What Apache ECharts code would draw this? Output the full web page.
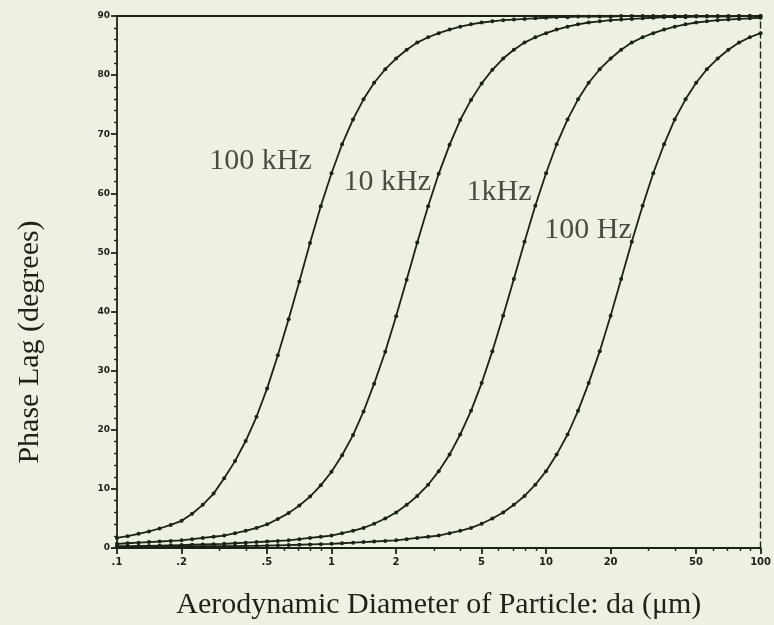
<!DOCTYPE html>
<html>
<head>
<meta charset="utf-8">
<script src="https://cdn.jsdelivr.net/npm/echarts@6/dist/echarts.min.js"></script>
<style>
  html, body { margin: 0; padding: 0; background: #edf1e3; }
  #chartHome { width: 774px; height: 625px; }
</style>
</head>
<body>
<div id="chartHome"></div>
<script>
// aerodynamic diameter (um), log spaced
const diameters = [
  0.1, 0.112, 0.126, 0.141, 0.158, 0.178, 0.2, 0.224, 0.251, 0.282,
  0.316, 0.355, 0.398, 0.447, 0.501, 0.562, 0.631, 0.708, 0.794, 0.891,
  1, 1.12, 1.26, 1.41, 1.58, 1.78, 2, 2.24, 2.51, 2.82,
  3.16, 3.55, 3.98, 4.47, 5.01, 5.62, 6.31, 7.08, 7.94, 8.91,
  10, 11.2, 12.6, 14.1, 15.8, 17.8, 20, 22.4, 25.1, 28.2,
  31.6, 35.5, 39.8, 44.7, 50.1, 56.2, 63.1, 70.8, 79.4, 89.1, 100
];

// phase lag (degrees)
const phase100kHz = [
  1.7, 2.0, 2.4, 2.8, 3.3, 3.9, 4.6, 5.8, 7.3, 9.2,
  11.8, 14.7, 18.1, 22.2, 27.0, 32.6, 38.7, 45.1, 51.6, 57.8,
  63.4, 68.3, 72.5, 75.9, 78.7, 81.0, 82.8, 84.3, 85.5, 86.4,
  87.1, 87.7, 88.2, 88.6, 88.9, 89.1, 89.3, 89.4, 89.5, 89.6,
  89.7, 89.8, 89.8, 89.9, 89.9, 89.9, 89.9, 90.0, 90.0, 90.0,
  90.0, 90.0, 90.0, 90.0, 90.0, 90.0, 90.0, 90.0, 90.0, 90.0, 90.0
];
const phase10kHz = [
  0.7, 0.8, 0.9, 1.0, 1.1, 1.2, 1.3, 1.5, 1.7, 1.9,
  2.1, 2.5, 2.9, 3.4, 4.0, 4.9, 5.9, 7.2, 8.7, 10.6,
  12.9, 15.7, 19.1, 23.1, 27.8, 33.2, 39.2, 45.4, 51.7, 57.8,
  63.3, 68.2, 72.4, 75.8, 78.6, 80.9, 82.8, 84.3, 85.5, 86.4,
  87.1, 87.7, 88.2, 88.6, 88.9, 89.1, 89.3, 89.4, 89.5, 89.6,
  89.7, 89.8, 89.8, 89.8, 89.9, 89.9, 89.9, 89.9, 90.0, 90.0, 90.0
];
const phase1kHz = [
  0.3, 0.3, 0.35, 0.35, 0.4, 0.45, 0.5, 0.55, 0.6, 0.65,
  0.7, 0.8, 0.9, 1.0, 1.1, 1.2, 1.3, 1.5, 1.7, 1.9,
  2.1, 2.5, 2.9, 3.4, 4.1, 5.0, 6.0, 7.3, 8.8, 10.7,
  13.0, 15.8, 19.2, 23.2, 27.9, 33.3, 39.3, 45.5, 51.8, 57.9,
  63.4, 68.3, 72.5, 75.9, 78.7, 81.0, 82.8, 84.3, 85.5, 86.4,
  87.1, 87.7, 88.2, 88.6, 88.9, 89.1, 89.3, 89.4, 89.5, 89.6, 89.7
];
const phase100Hz = [
  0.2, 0.2, 0.2, 0.2, 0.25, 0.25, 0.25, 0.25, 0.3, 0.3,
  0.3, 0.3, 0.35, 0.35, 0.4, 0.45, 0.5, 0.55, 0.6, 0.65,
  0.7, 0.8, 0.9, 1.0, 1.1, 1.2, 1.3, 1.5, 1.7, 1.9,
  2.1, 2.5, 2.9, 3.4, 4.1, 5.0, 6.0, 7.3, 8.8, 10.7,
  13.0, 15.8, 19.2, 23.2, 27.9, 33.3, 39.3, 45.5, 51.8, 57.9,
  63.4, 68.3, 72.5, 75.9, 78.7, 81.0, 82.8, 84.3, 85.5, 86.4, 87.1
];

// axis ticks
const xMajorTicks = [0.1, 0.2, 0.5, 1, 2, 5, 10, 20, 50, 100];
const xMinorTicks = [0.3, 0.4, 0.6, 0.7, 0.8, 0.9, 3, 4, 6, 7, 8, 9, 30, 40, 60, 70, 80, 90];

// curve labels (placed in data coordinates)
const curveNames = ['100 kHz', '10 kHz', '1kHz', '100 Hz'];
const labelX = [0.467, 1.82, 6.04, 15.7];
const labelY = [65.4, 61.9, 60.2, 53.8];

const ink = '#1a2318';
const textInk = '#1f211a';
const serif = '"Liberation Serif", "Times New Roman", serif';

const curves = [phase100kHz, phase10kHz, phase1kHz, phase100Hz];

function curveSeries(name, values) {
  return {
    name: name,
    type: 'line',
    xAxisIndex: 0,
    yAxisIndex: 0,
    data: diameters.map((d, i) => [d, values[i]]),
    symbol: 'circle',
    symbolSize: 4,
    showSymbol: true,
    lineStyle: { color: ink, width: 1.8 },
    itemStyle: { color: ink },
    silent: true,
    z: 3
  };
}

const option = {
  backgroundColor: '#edf1e3',
  animation: false,
  grid: { left: 117, right: 11, top: 16, bottom: 75, containLabel: false },
  xAxis: [
    {
      type: 'log',
      logBase: 10,
      min: 0.1,
      max: 100,
      position: 'bottom',
      name: 'Aerodynamic Diameter of Particle: da (\u03bcm)',
      nameLocation: 'middle',
      nameGap: 42,
      nameTextStyle: { fontFamily: serif, fontSize: 30, color: textInk },
      axisLine: { show: true, lineStyle: { color: ink, width: 1.8 } },
      axisTick: { show: true, customValues: xMajorTicks, length: 6, lineStyle: { color: ink, width: 1.8 } },
      axisLabel: {
        show: true,
        customValues: xMajorTicks,
        margin: 9,
        fontFamily: 'DejaVu Sans',
        fontWeight: 'bold',
        fontSize: 10,
        color: '#1e1e1a',
        formatter: v => (v < 1 ? String(v).replace(/^0/, '') : String(v))
      },
      splitLine: { show: false },
      minorTick: { show: false }
    },
    {
      type: 'log',
      logBase: 10,
      min: 0.1,
      max: 100,
      position: 'bottom',
      axisLine: { show: false },
      axisTick: { show: true, customValues: xMinorTicks, length: 3, lineStyle: { color: ink, width: 1.4 } },
      axisLabel: { show: false },
      splitLine: { show: false }
    },
    {
      type: 'log',
      logBase: 10,
      min: 0.1,
      max: 100,
      position: 'top',
      axisLine: { show: true, lineStyle: { color: ink, width: 1.8 } },
      axisTick: { show: false },
      axisLabel: { show: false },
      splitLine: { show: false }
    }
  ],
  yAxis: [
    {
      type: 'value',
      min: 0,
      max: 90,
      interval: 10,
      position: 'left',
      name: 'Phase Lag (degrees)',
      nameLocation: 'middle',
      nameGap: 72,
      nameTextStyle: { fontFamily: serif, fontSize: 30, color: textInk, padding: [0, 120, 0, 0] },
      axisLine: { show: true, lineStyle: { color: ink, width: 1.8 } },
      axisTick: { show: true, length: 6, lineStyle: { color: ink, width: 1.8 } },
      minorTick: { show: true, splitNumber: 5, length: 3, lineStyle: { color: ink, width: 1.4 } },
      axisLabel: {
        margin: 7,
        fontFamily: 'DejaVu Sans',
        fontWeight: 'bold',
        fontSize: 9,
        color: '#1e1e1a'
      },
      splitLine: { show: false }
    },
    {
      type: 'value',
      min: 0,
      max: 90,
      position: 'right',
      axisLine: { show: true, lineStyle: { color: ink, width: 1.4, type: [6, 4] } },
      axisTick: { show: false },
      axisLabel: { show: false },
      splitLine: { show: false }
    }
  ],
  series: curveNames.map((n, i) => curveSeries(n, curves[i])).concat([
    {
      name: 'labels',
      type: 'scatter',
      xAxisIndex: 0,
      yAxisIndex: 0,
      symbolSize: 0,
      silent: true,
      data: curveNames.map((n, i) => ({ name: n, value: [labelX[i], labelY[i]] })),
      label: {
        show: true,
        position: 'inside',
        formatter: p => p.name,
        fontFamily: serif,
        fontSize: 30,
        color: textInk
      },
      z: 4
    }
  ])
};

const charts = echarts.init(document.getElementById('chartHome'));
charts.setOption(option);
</script>
</body>
</html>
